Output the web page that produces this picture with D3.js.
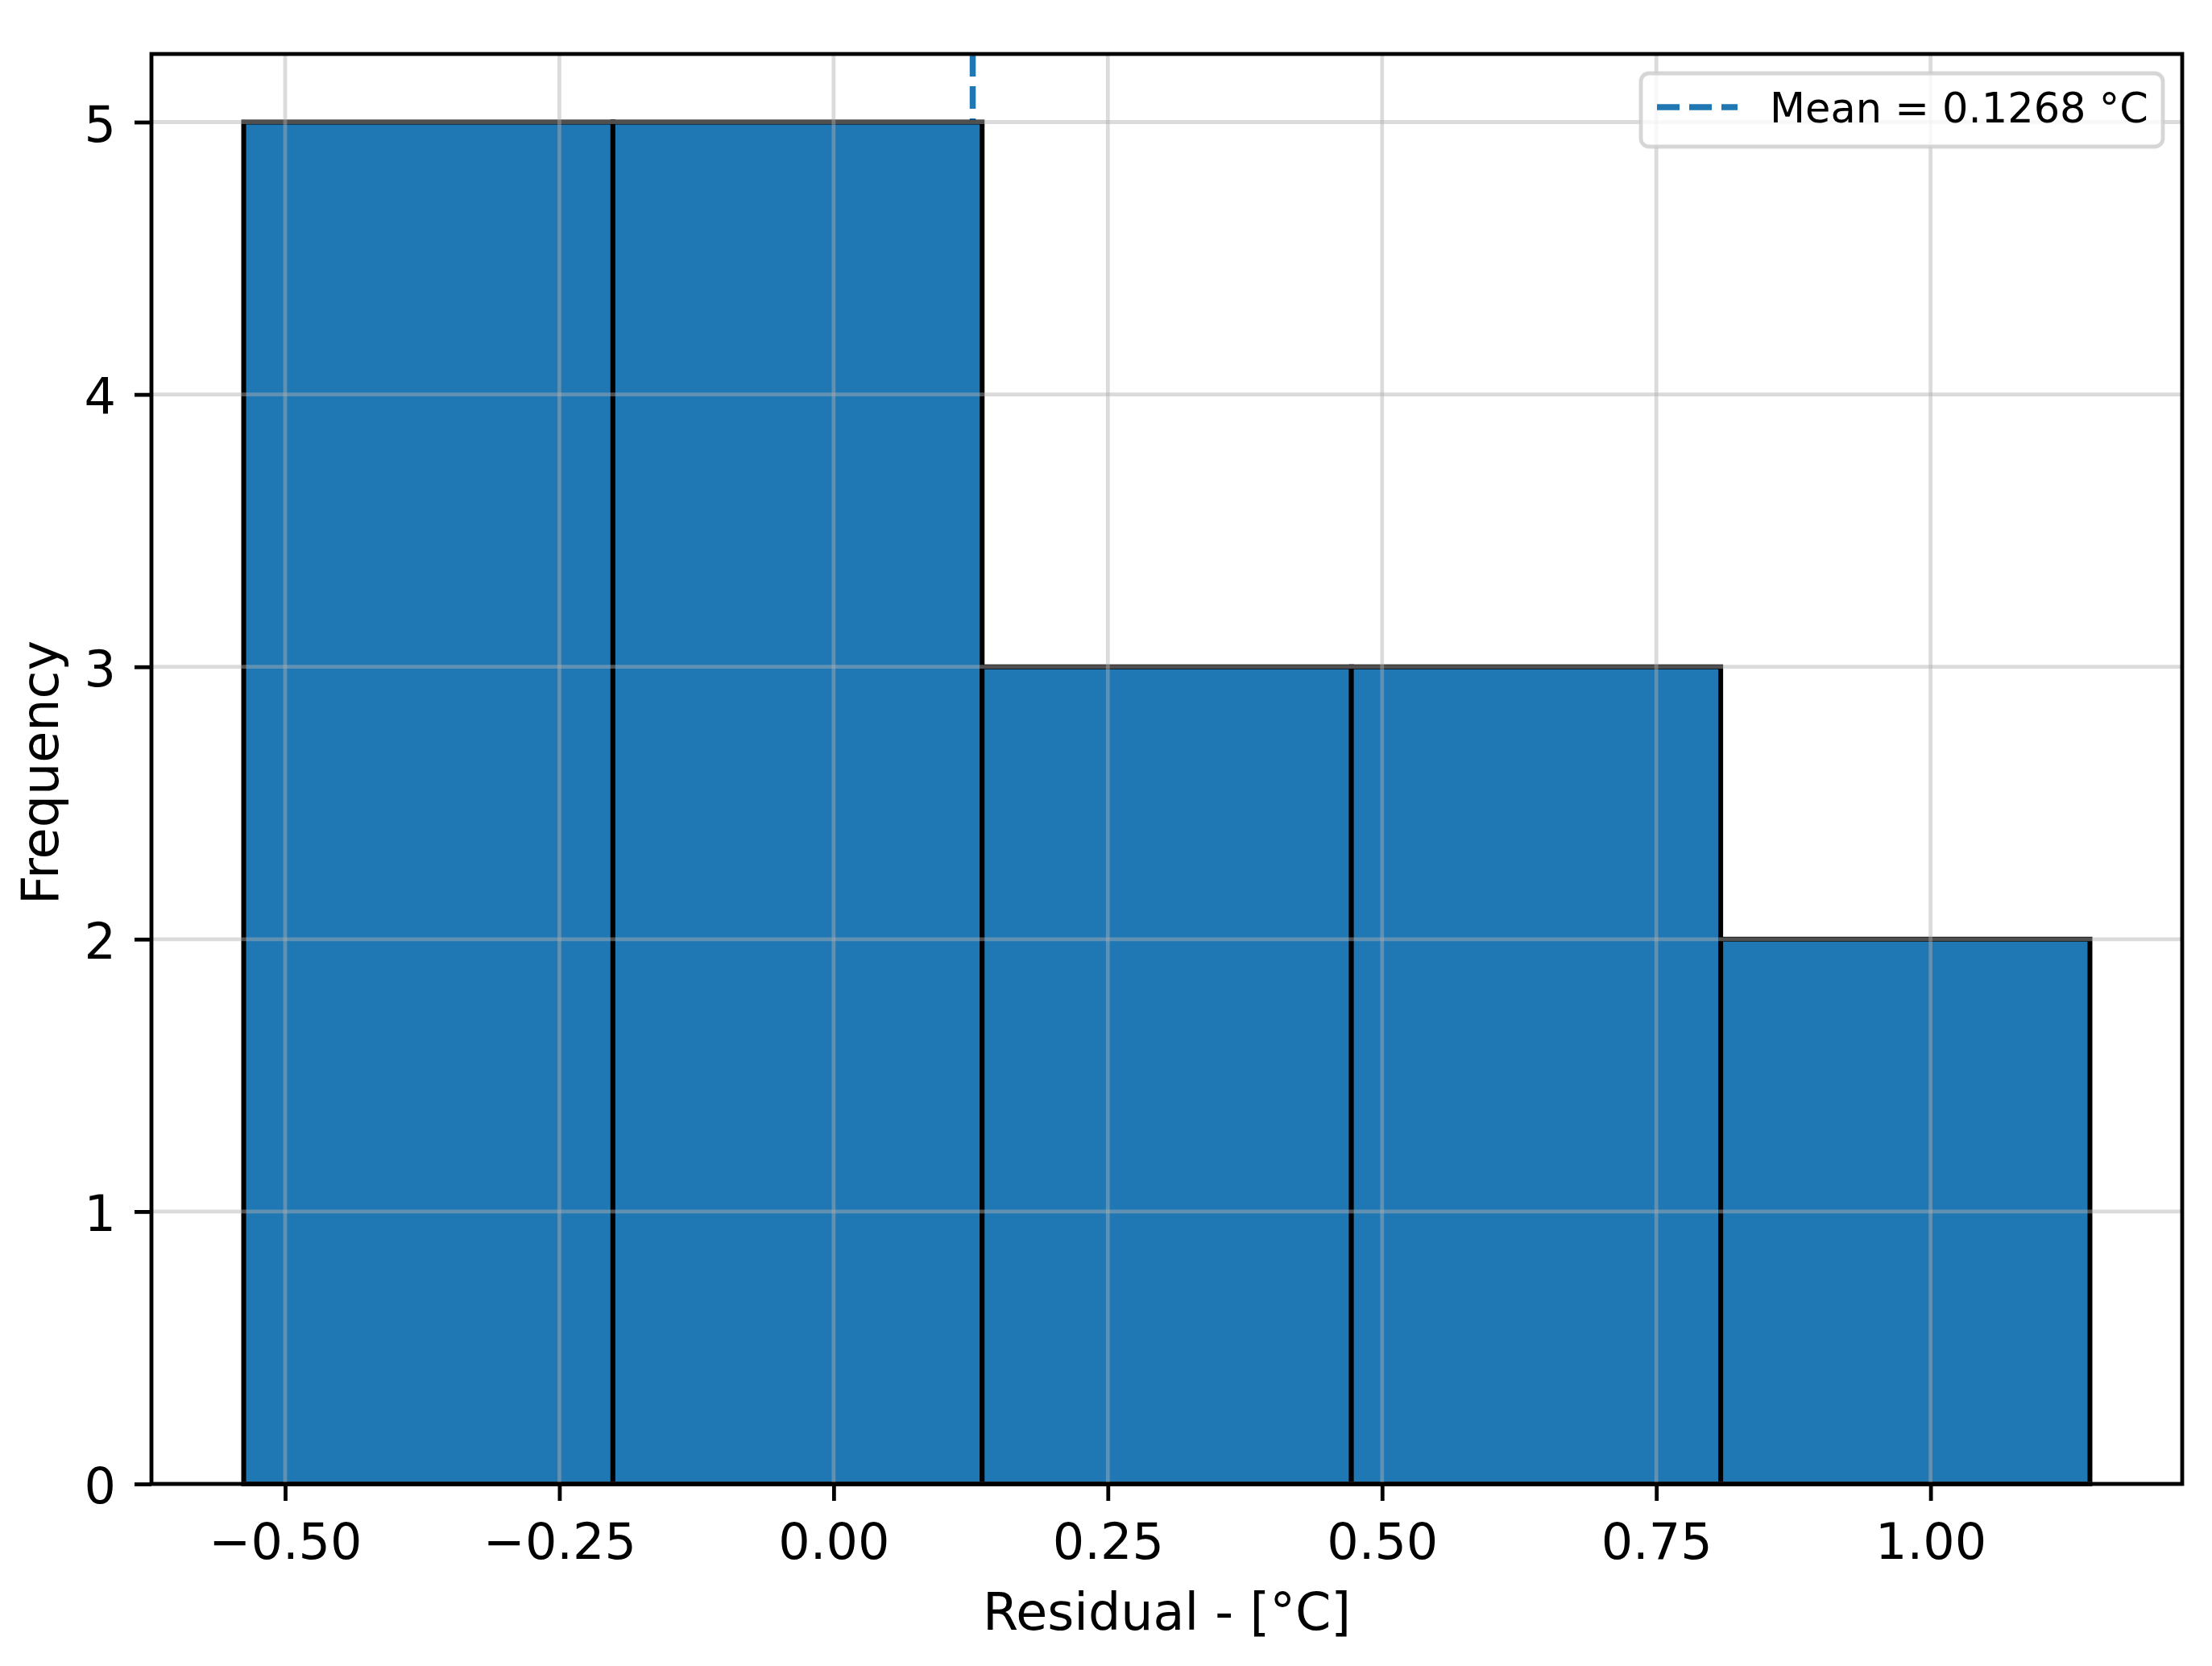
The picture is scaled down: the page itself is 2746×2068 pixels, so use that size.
<!DOCTYPE html>
<html>
<head>
<meta charset="utf-8">
<script src="https://cdn.jsdelivr.net/npm/d3@7"></script>
<style>
  body { margin: 0; background: #fff; }
  svg { display: block; font-family: "DejaVu Sans", sans-serif; }
</style>
</head>
<body>
<svg id="chart" width="2746" height="2068"></svg>
<script>
// histogram of residuals (5 bins)
var binEdges = [-0.5378, -0.2012, 0.1354, 0.4720, 0.8087, 1.1453];
var counts = [5, 5, 3, 3, 2];
var meanValue = 0.1268;
var xTicks = [-0.50, -0.25, 0.00, 0.25, 0.50, 0.75, 1.00];
var yTicks = [0, 1, 2, 3, 4, 5];
var xDomain = [-0.6219, 1.2294];
var yDomain = [0, 5.25];

// plot area (note: "top" is reserved on window, so use px* names)
var pxLeft = 188, pxRight = 2709, pxTop = 67, pxBottom = 1842;
var blue = "#1f77b4";

var svg = d3.select("#chart");
svg.append("rect").attr("width", 2746).attr("height", 2068).attr("fill", "#fff");

var x = d3.scaleLinear().domain(xDomain).range([pxLeft, pxRight]);
var y = d3.scaleLinear().domain(yDomain).range([pxBottom, pxTop]);

// mean line (sits behind the bars)
svg.append("line")
  .attr("x1", x(meanValue)).attr("x2", x(meanValue))
  .attr("y1", y(yDomain[1])).attr("y2", y(0))
  .attr("stroke", blue).attr("stroke-width", 7.5)
  .attr("stroke-dasharray", "28,12");

var bins = counts.map(function(c, i) { return {x0: binEdges[i], x1: binEdges[i + 1], n: c}; });
svg.append("g").selectAll("rect").data(bins).join("rect")
  .attr("x", function(d) { return x(d.x0); })
  .attr("y", function(d) { return y(d.n); })
  .attr("width", function(d) { return x(d.x1) - x(d.x0); })
  .attr("height", function(d) { return y(0) - y(d.n); })
  .attr("fill", blue).attr("stroke", "#000").attr("stroke-width", 6);

// grid on top of the bars
var grid = svg.append("g").attr("stroke", "#b0b0b0").attr("stroke-opacity", 0.45).attr("stroke-width", 4.8);
grid.selectAll(".gx").data(xTicks).join("line").attr("class", "gx")
  .attr("x1", function(d) { return x(d); }).attr("x2", function(d) { return x(d); })
  .attr("y1", pxTop).attr("y2", pxBottom);
grid.selectAll(".gy").data(yTicks).join("line").attr("class", "gy")
  .attr("y1", function(d) { return y(d); }).attr("y2", function(d) { return y(d); })
  .attr("x1", pxLeft).attr("x2", pxRight);

// axes
var fmtX = function(d) { return d3.format(".2f")(d).replace("-", "\u2212"); };
var xAxis = svg.append("g").attr("transform", "translate(0," + pxBottom + ")")
  .call(d3.axisBottom(x).tickValues(xTicks).tickFormat(fmtX).tickSize(21).tickPadding(28).tickSizeOuter(0));
var yAxis = svg.append("g").attr("transform", "translate(" + pxLeft + ",0)")
  .call(d3.axisLeft(y).tickValues(yTicks).tickFormat(d3.format("d")).tickSize(21).tickPadding(23).tickSizeOuter(0));
[xAxis, yAxis].forEach(function(a) {
  a.select(".domain").remove();
  a.selectAll(".tick line").attr("stroke", "#000").attr("stroke-width", 4.8);
  a.selectAll(".tick text").attr("fill", "#000").attr("font-size", 62)
    .attr("font-family", "DejaVu Sans, sans-serif");
});
yAxis.selectAll(".tick text").attr("dy", "0.38em");

// spines
svg.append("rect").attr("x", pxLeft).attr("y", pxTop)
  .attr("width", pxRight - pxLeft).attr("height", pxBottom - pxTop)
  .attr("fill", "none").attr("stroke", "#000").attr("stroke-width", 4.8);

svg.append("text").attr("x", (pxLeft + pxRight) / 2).attr("y", 2023)
  .attr("text-anchor", "middle").attr("font-size", 63.5).text("Residual - [°C]");
svg.append("text").attr("transform", "translate(72," + 959 + ") rotate(-90)")
  .attr("text-anchor", "middle").attr("font-size", 63.5).text("Frequency");

// legend
var lg = svg.append("g");
lg.append("rect").attr("x", 2037).attr("y", 91).attr("width", 648).attr("height", 91)
  .attr("rx", 10).attr("ry", 10)
  .attr("fill", "#fff").attr("fill-opacity", 0.8)
  .attr("stroke", "#cccccc").attr("stroke-opacity", 0.8).attr("stroke-width", 4.8);
lg.append("line").attr("x1", 2057).attr("x2", 2157).attr("y1", 133).attr("y2", 133)
  .attr("stroke", blue).attr("stroke-width", 7.5).attr("stroke-dasharray", "28,12");
lg.append("text").attr("x", 2197).attr("y", 152).attr("font-size", 51)
  .text("Mean = " + meanValue.toFixed(4) + " °C");
</script>
</body>
</html>
